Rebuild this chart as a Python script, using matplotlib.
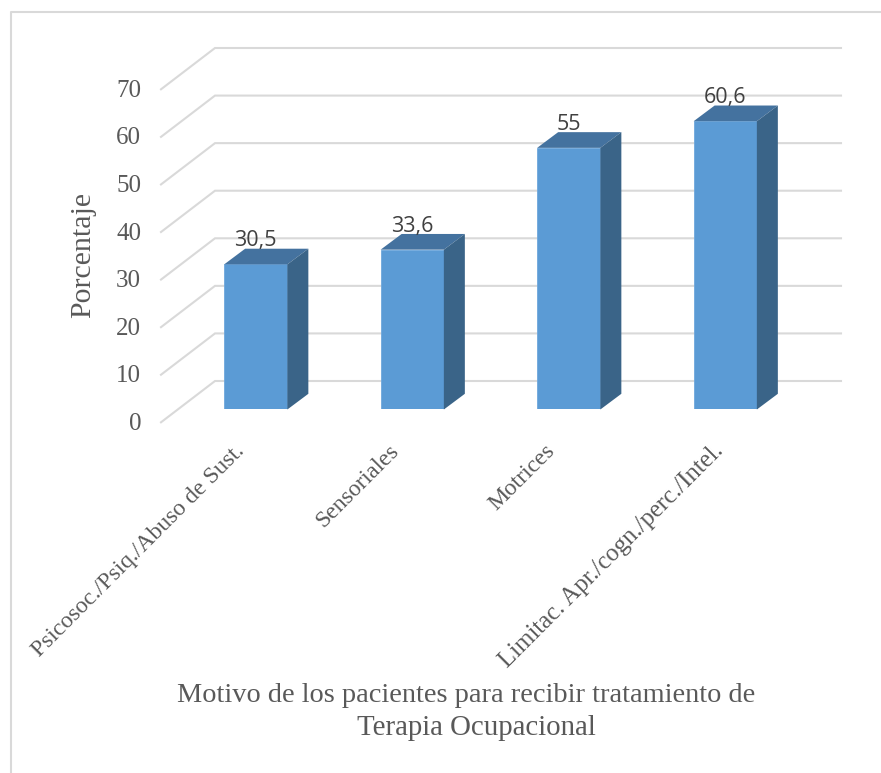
import matplotlib
matplotlib.use("Agg")
import matplotlib.pyplot as plt
from matplotlib.lines import Line2D
from matplotlib.transforms import ScaledTranslation

W, H = 881, 773
DPI = 100

categories = [
    "Psicosoc./Psiq./Abuso de Sust.",
    "Sensoriales",
    "Motrices",
    "Limitac. Apr./cogn./perc./Intel.",
]
values = [30.5, 33.6, 55, 60.6]
value_labels = ["30,5", "33,6", "55", "60,6"]
y_ticks = [0, 10, 20, 30, 40, 50, 60, 70]

FRONT = "#5B9BD5"
TOP = "#44729F"
SIDE = "#3A6488"
GRID = "#D9D9D9"
TEXT = "#595959"

plt.rcParams["font.family"] = ["Liberation Serif", "DejaVu Serif"]

fig = plt.figure(figsize=(W / DPI, H / DPI), dpi=DPI, facecolor="white")

# axes is the plane of the bars' front faces, everything 3d hangs off it in pixels
left, right, top, bottom = 177.5, 803.5, 76.5, 409.5
ax = fig.add_axes([left / W, 1 - bottom / H, (right - left) / W, (bottom - top) / H])
ax.set_xlim(-0.5, 3.5)
ax.set_ylim(0, 70)
for s in ax.spines.values():
    s.set_visible(False)

px_x = 4 / (right - left)  # data units per pixel
px_y = 70 / (bottom - top)

# gridlines: front stub, then along the back wall
for t in y_ticks:
    xs = [-0.5 - 16.5 * px_x, -0.5 + 37.5 * px_x, 3.5 + 37.5 * px_x]
    ys = [t - 12.8 * px_y, t + 28.5 * px_y, t + 28.5 * px_y]
    ax.plot(xs, ys, color=GRID, lw=1.5, clip_on=False, zorder=1, solid_joinstyle="miter")

# bars
bar_w = 63.2 * px_x
dx = 21 * px_x
dy = 15.7 * px_y
pos = list(range(len(values)))
ax.bar(pos, values, width=bar_w, color=FRONT, edgecolor="#6FA8DC", linewidth=0.6, zorder=3)
for p, v, lab in zip(pos, values, value_labels):
    x0, x1 = p - bar_w / 2, p + bar_w / 2
    ax.fill([x0, x1, x1 + dx, x0 + dx], [v, v, v + dy, v + dy], color=TOP, lw=0, zorder=3, clip_on=False)
    ax.fill([x1, x1 + dx, x1 + dx, x1], [0, dy, v + dy, v], color=SIDE, lw=0, zorder=3, clip_on=False)
    ax.annotate(lab, (p, v), xytext=(0, 17), textcoords="offset points", ha="center", va="center",
                fontsize=15.5, color="#404040", family=["Open Sans", "DejaVu Sans"], zorder=4)

ax.set_yticks(y_ticks)
ax.set_yticklabels([str(t) for t in y_ticks], fontsize=18, color=TEXT)
ax.tick_params(axis="y", length=0, pad=14)
for label in ax.get_yticklabels():
    label.set_transform(label.get_transform() + ScaledTranslation(-17 / DPI, -11.8 / DPI, fig.dpi_scale_trans))

ax.set_xticks(pos)
ax.set_xticklabels(categories, fontsize=17, color=TEXT, rotation=45, ha="right", rotation_mode="anchor")
ax.tick_params(axis="x", length=0, pad=22)
x_shift = [-22, -24, -24, -13]
for label, sh in zip(ax.get_xticklabels(), x_shift):
    label.set_transform(label.get_transform() + ScaledTranslation(sh / DPI, 0, fig.dpi_scale_trans))
ax.get_xticklabels()[-1].set_fontsize(17.8)

fig.text(83 / W, 1 - 255 / H, "Porcentaje", rotation=90, ha="center", va="center", fontsize=21.5, color=TEXT)
# second line sits off centre in the original
fig.text(466.5 / W, 1 - 695 / H, "Motivo de los pacientes para recibir tratamiento de",
         ha="center", va="center", fontsize=20.4, color=TEXT)
fig.text(476 / W, 1 - 728 / H, "Terapia Ocupacional",
         ha="center", va="center", fontsize=20.8, color=TEXT)

# frame of the embedded chart, no bottom edge, right edge runs off the image
fig.add_artist(Line2D([10.5 / W, 10.5 / W, 1], [0, 1 - 12 / H, 1 - 12 / H], color=GRID, lw=1.5))

fig.savefig("out.png", dpi=DPI)
